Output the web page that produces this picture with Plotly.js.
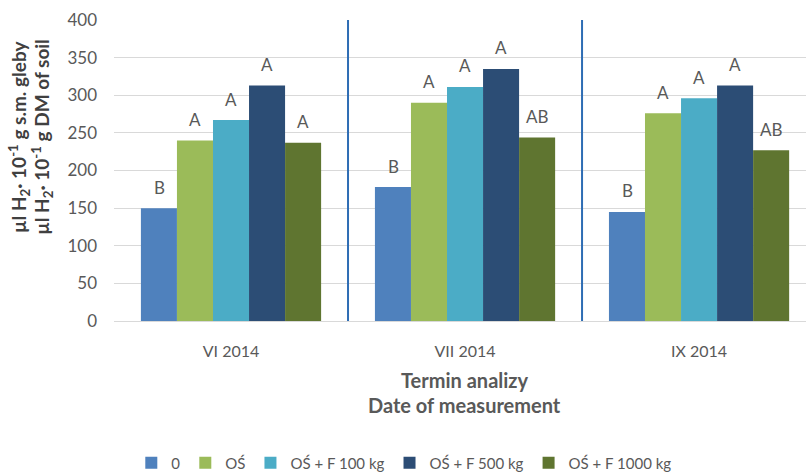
<!DOCTYPE html>
<html><head><meta charset="utf-8">
<script src="https://cdn.plot.ly/plotly-3.0.1.min.js"></script>
<style>body{margin:0;padding:0;background:#fff}#chart{width:806px;height:472px}</style>
</head><body><div id="chart"></div>
<script>
const categories = ["VI 2014", "VII 2014", "IX 2014"];
const seriesNames = ["0", "OŚ", "OŚ + F 100 kg", "OŚ + F 500 kg", "OŚ + F 1000 kg"];
const values0 = [150, 178, 145];
const valuesOS = [240, 290, 276];
const valuesF100 = [267, 311, 296];
const valuesF500 = [313, 335, 313];
const valuesF1000 = [237, 244, 227];
const letters0 = ["B", "B", "B"];
const lettersOS = ["A", "A", "A"];
const lettersF100 = ["A", "A", "A"];
const lettersF500 = ["A", "A", "A"];
const lettersF1000 = ["A", "AB", "AB"];
const yTicks = [0, 50, 100, 150, 200, 250, 300, 350, 400];

const colors = ["#4F81BD", "#9BBB59", "#4BACC6", "#2C4D75", "#5F7530"];
const allValues = [values0, valuesOS, valuesF100, valuesF500, valuesF1000];
const allLetters = [letters0, lettersOS, lettersF100, lettersF500, lettersF1000];
const font = "Lato, 'Open Sans', sans-serif";
const grey = "#595959";

const traces = allValues.map((v, i) => ({
  type: "bar", name: seriesNames[i], x: categories, y: v,
  marker: {color: colors[i]}, hoverinfo: "none"
}));

const barPx = 36;
const annotations = [];
allValues.forEach((v, i) => {
  v.forEach((val, j) => {
    annotations.push({
      x: categories[j], y: val, xref: "x", yref: "y",
      text: allLetters[i][j], showarrow: false,
      xshift: (i - 2) * barPx, yshift: 21, yanchor: "middle",
      font: {family: font, size: 17, color: grey}
    });
  });
});
annotations.push({
  xref: "paper", yref: "paper", x: 0.507, y: -0.196, yanchor: "middle",
  text: "<b>Termin analizy</b>", showarrow: false,
  font: {family: font, size: 20, color: grey}
});
annotations.push({
  xref: "paper", yref: "paper", x: 0.507, y: -0.279, yanchor: "middle",
  text: "<b>Date of measurement</b>", showarrow: false,
  font: {family: font, size: 20, color: grey}
});
annotations.push({
  xref: "paper", yref: "paper", x: -0.137, y: 0.612, xanchor: "center", yanchor: "middle",
  textangle: -90, showarrow: false,
  text: "<b>µl H<sub>2</sub>· 10<sup>-1</sup> g s.m. gleby</b>",
  font: {family: font, size: 19, color: "#404040"}
});
annotations.push({
  xref: "paper", yref: "paper", x: -0.104, y: 0.612, xanchor: "center", yanchor: "middle",
  textangle: -90, showarrow: false,
  text: "<b>µl H<sub>2</sub>· 10<sup>-1</sup> g DM of soil</b>",
  font: {family: font, size: 19, color: "#404040"}
});

const shapes = [0.5, 1.5].map(xv => ({
  type: "line", xref: "x", yref: "y", x0: xv, x1: xv, y0: 0, y1: 400,
  line: {color: "#2E6DB4", width: 2}
}));

const layout = {
  width: 806, height: 472,
  margin: {l: 114, r: 0, t: 20, b: 151, autoexpand: false},
  paper_bgcolor: "#fff", plot_bgcolor: "#fff",
  barmode: "group", bargap: 0.23, bargroupgap: 0,
  showlegend: true,
  legend: {orientation: "h", x: 0.025, xanchor: "left", y: -0.472, yanchor: "middle",
    font: {family: font, size: 15, color: grey}, itemwidth: 30, traceorder: "normal"},
  xaxis: {range: [-0.5, 2.457], tickfont: {family: font, size: 16, color: grey},
    showline: true, linecolor: "#d9d9d9", linewidth: 1, ticks: "", ticklabelstandoff: 16,
    showgrid: false, zeroline: false, fixedrange: true},
  yaxis: {range: [0, 400], tickvals: yTicks, ticktext: yTicks.map(String),
    tickfont: {family: font, size: 17, color: grey}, showgrid: true, gridcolor: "#d9d9d9",
    gridwidth: 1, zeroline: false, ticks: "", ticklabelstandoff: 16, showline: false, fixedrange: true},
  annotations: annotations, shapes: shapes
};

Plotly.newPlot("chart", traces, layout, {displayModeBar: false, staticPlot: true});
</script></body></html>
